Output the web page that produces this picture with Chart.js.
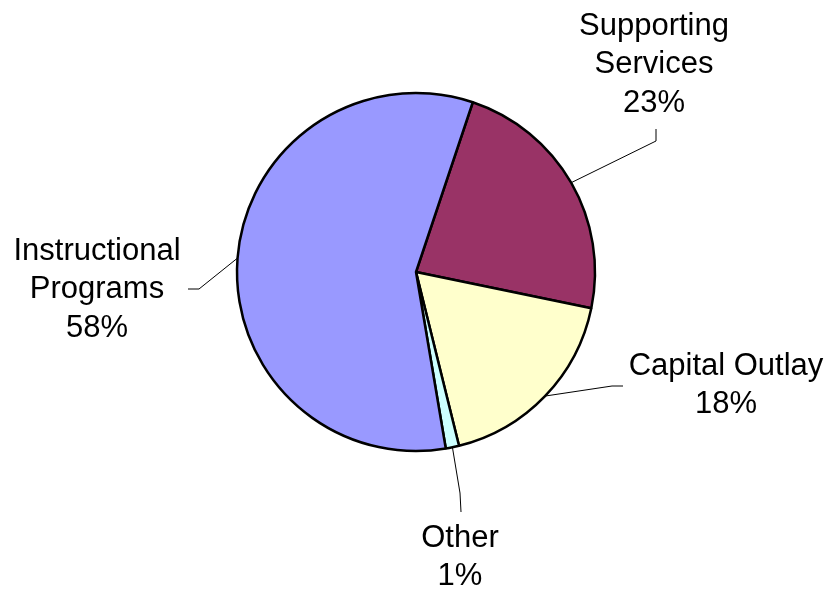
<!DOCTYPE html>
<html lang="en">
<head>
  <meta charset="UTF-8">
  <title>Expenditures by Function</title>
  <script src="https://cdn.jsdelivr.net/npm/chart.js"></script>
  <style>
    body {
      margin: 0;
      background: white;
    }
    .wrap {
      width: 831px;
      height: 590px;
    }
  </style>
</head>
<body>

  <div class="wrap"><canvas id="pie" width="831" height="590"></canvas></div>

  <script>
    // data (slice order clockwise from the top)
    const categories = ['Supporting Services', 'Capital Outlay', 'Other', 'Instructional Programs'];
    const labelLines = [['Supporting', 'Services'], ['Capital Outlay'], ['Other'], ['Instructional', 'Programs']];
    const shares = [23.1, 17.9, 1.2, 57.8];
    const sliceColors = ['#993366', '#FFFFCC', '#CCFFFF', '#9999FF'];

    // where each label sits and how its leader line bends
    const labelPos = [
      { x: 654, y: 35, bend: [[656, 141], [656, 129]] },
      { x: 726, y: 375, bend: [[612, 386], [623, 386]] },
      { x: 460, y: 547, bend: [[460, 493], [461, 512]] },
      { x: 97, y: 260, bend: [[199, 289], [188, 289]] }
    ];

    const total = shares.reduce((a, b) => a + b, 0);

    // labels with leader lines outside the pie
    const outsideLabels = {
      id: 'outsideLabels',
      afterDraw(chart) {
        const ctx = chart.ctx;
        const arcs = chart.getDatasetMeta(0).data;
        ctx.save();
        arcs.forEach(function(arc, i) {
          const p = arc.getProps(['x', 'y', 'startAngle', 'endAngle', 'outerRadius'], true);
          const mid = (p.startAngle + p.endAngle) / 2;
          const sx = p.x + Math.cos(mid) * p.outerRadius;
          const sy = p.y + Math.sin(mid) * p.outerRadius;
          const pos = labelPos[i];

          ctx.strokeStyle = '#000';
          ctx.lineWidth = 1;
          ctx.beginPath();
          ctx.moveTo(sx, sy);
          pos.bend.forEach(function(pt) { ctx.lineTo(pt[0], pt[1]); });
          ctx.stroke();

          const lines = labelLines[i].concat([Math.round(shares[i] / total * 100) + '%']);
          ctx.fillStyle = '#000';
          ctx.font = '31px "Liberation Sans", Arial, sans-serif';
          ctx.textAlign = 'center';
          ctx.textBaseline = 'alphabetic';
          lines.forEach(function(t, k) {
            ctx.fillText(t, pos.x, pos.y + k * 38.3);
          });
        });
        ctx.restore();
      }
    };

    new Chart(document.getElementById('pie').getContext('2d'), {
      type: 'pie',
      data: {
        labels: categories,
        datasets: [{
          data: shares,
          backgroundColor: sliceColors,
          borderColor: '#000',
          borderWidth: 2.5
        }]
      },
      options: {
        responsive: false,
        animation: false,
        rotation: 18.5,
        radius: 179,
        layout: { padding: { left: 237, right: 236, top: 93, bottom: 139 } },
        plugins: {
          legend: { display: false },
          tooltip: { enabled: false }
        }
      },
      plugins: [outsideLabels]
    });
  </script>
</body>
</html>
